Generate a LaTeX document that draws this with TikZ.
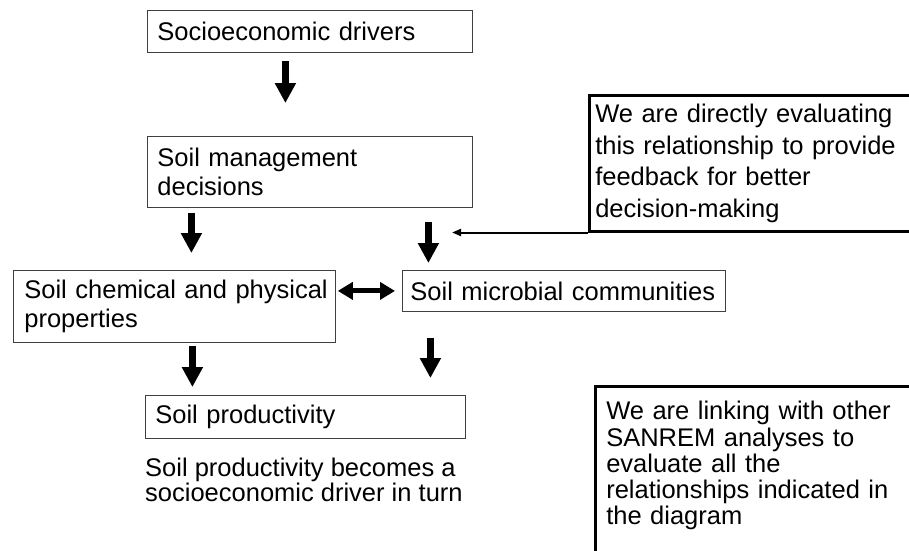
\documentclass[tikz,border=0pt]{standalone}
\usepackage{fontspec}
\setmainfont{Liberation Sans}
\usetikzlibrary{arrows.meta,positioning}

\tikzset{
  box/.style={rectangle,draw=black!75,line width=0.8pt,anchor=north west,
    align=left,inner xsep=10pt,inner ysep=0pt,
    font=\fontsize{25.5}{28.5}\selectfont},
  note/.style={box,draw=black,line width=2.5pt,inner xsep=6pt},
  fat/.style={line width=6.5pt,-{Triangle[length=20pt,width=20pt]}},
  fatboth/.style={line width=5pt,
    {Triangle[length=15pt,width=17pt]}-{Triangle[length=15pt,width=17pt]}},
  feedback/.style={line width=2pt,-{Triangle[length=9pt,width=7pt]}}
}

\begin{document}
\begin{tikzpicture}[x=1pt,y=-1pt]
\useasboundingbox (0,0) rectangle (909,550);
\clip (0,0) rectangle (909,550);

\node (drivers) [box,text width=305pt,minimum height=42pt] at (147,10)
  {Socioeconomic drivers};
\node (mgmt) [box,text width=305pt,minimum height=71pt] at (147,136)
  {Soil management\\decisions};
\node (chem) [box,inner xsep=11pt,text width=300pt,minimum height=72pt] at (13,270)
  {\mbox{Soil chemical and physical}\\properties};
\node (micro) [box,inner xsep=8pt,text width=307pt,minimum height=41pt] at (402,270)
  {Soil microbial communities};
\node (prod) [box,text width=300pt,minimum height=43pt] at (145,395)
  {Soil productivity};
\node (turn) [below=19pt of prod.south west,anchor=north west,align=left,
  inner sep=0pt,font=\fontsize{25.5}{25}\selectfont]
  {Soil productivity becomes a\\socioeconomic driver in turn};

\node (direct) [note,text width=312pt,minimum height=136pt,
  font=\fontsize{25.5}{31.5}\selectfont] at (588,94)
  {We are directly evaluating\\this relationship to provide\\feedback for better\\decision-making};
\node (linking) [note,inner xsep=11pt,inner ysep=15pt,text width=300pt,
  font=\fontsize{25.5}{26.3}\selectfont] at (594,385)
  {We are linking with other\\SANREM analyses to\\evaluate all the\\relationships indicated in\\the diagram\rule[-40pt]{0pt}{40pt}};

% arrows between the boxes
\draw[fat,shorten <=8pt,shorten >=33pt] ([xshift=-24.5pt]drivers.south) -- ([xshift=-24.5pt]mgmt.north);
\draw[fat,shorten <=5pt,shorten >=17pt] ([xshift=-118.5pt]mgmt.south) -- ([xshift=17pt]chem.north);
\draw[fat,shorten <=14pt,shorten >=7pt] ([xshift=118.5pt]mgmt.south) -- ([xshift=-135.5pt]micro.north);
\draw[fatboth,shorten <=2pt,shorten >=7pt] (chem.east |- micro.west) -- (micro.west);
\draw[fat,shorten <=3pt,shorten >=8pt] ([xshift=18pt]chem.south) -- ([xshift=-113pt]prod.north);
\draw[fat,shorten <=26pt,shorten >=17pt] ([xshift=-133.5pt]micro.south) -- ([xshift=125pt]prod.north);

% the evaluated relationship
\coordinate (fbtip) at ([xshift=-136pt]direct.south west);
\draw[feedback] (direct.south west) -- (fbtip);
\end{tikzpicture}
\end{document}
